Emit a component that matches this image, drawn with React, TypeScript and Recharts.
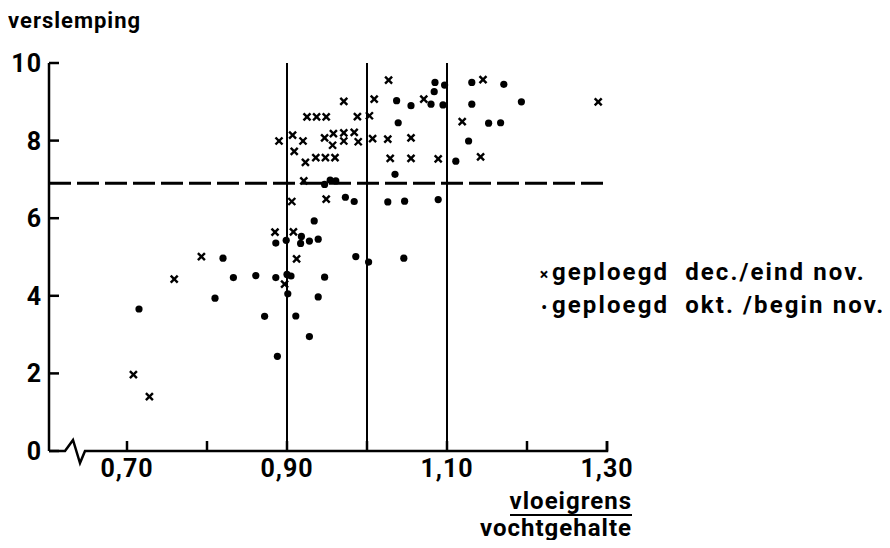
import { ScatterChart, Scatter, XAxis, YAxis, ReferenceLine } from "recharts";

const FONT = "Roboto, 'DejaVu Sans', sans-serif";

// axis setup
const xTicks = [0.7, 0.8, 0.9, 1.0, 1.1, 1.2, 1.3];
const xLabeled = [0.7, 0.9, 1.1, 1.3];
const yTicks = [0, 2, 4, 6, 8, 10];
const dividers = [0.9, 1.0, 1.1];
const threshold = 6.9;

// geploegd dec./eind nov. (crosses)
const decX = [0.708, 0.728, 0.759, 0.793, 0.885, 0.897, 0.908, 0.912, 0.906, 0.949, 0.921, 0.89, 0.907, 0.92, 0.909, 0.923, 0.936, 0.948, 0.96, 0.947, 0.958, 0.957, 0.971, 0.971, 0.984, 0.989, 0.925, 0.937, 0.949, 0.988, 1.003, 0.971, 1.009, 1.027, 1.007, 1.026, 1.055, 1.029, 1.055, 1.089, 1.071, 1.119, 1.142, 1.145, 1.289];
const decY = [1.97, 1.4, 4.43, 5.01, 5.64, 4.3, 5.65, 4.95, 6.43, 6.49, 6.96, 7.99, 8.14, 7.99, 7.72, 7.44, 7.56, 7.56, 7.56, 8.07, 8.18, 7.88, 8.2, 7.99, 8.21, 7.97, 8.61, 8.61, 8.61, 8.62, 8.64, 9.01, 9.07, 9.56, 8.05, 8.04, 8.07, 7.54, 7.54, 7.53, 9.07, 8.49, 7.58, 9.57, 9.0];

// geploegd okt./begin nov. (dots)
const oktX = [0.715, 0.81, 0.82, 0.833, 0.861, 0.872, 0.886, 0.888, 0.886, 0.899, 0.9, 0.905, 0.901, 0.911, 0.918, 0.917, 0.928, 0.928, 0.939, 0.934, 0.939, 0.947, 0.947, 0.954, 0.961, 0.973, 0.984, 0.986, 1.002, 1.026, 1.046, 1.047, 1.089, 1.035, 1.111, 1.127, 1.037, 1.039, 1.055, 1.08, 1.095, 1.084, 1.085, 1.097, 1.131, 1.131, 1.152, 1.167, 1.171, 1.193];
const oktY = [3.66, 3.94, 4.97, 4.47, 4.52, 3.47, 4.47, 2.44, 5.36, 5.43, 4.55, 4.51, 4.05, 3.48, 5.53, 5.35, 5.41, 2.95, 5.46, 5.93, 3.97, 4.48, 6.87, 6.98, 6.96, 6.54, 6.43, 5.01, 4.87, 6.42, 4.97, 6.44, 6.48, 7.13, 7.47, 7.99, 9.03, 8.46, 8.9, 8.94, 8.92, 9.26, 9.5, 9.43, 9.5, 8.94, 8.45, 8.46, 9.45, 9.0];

const decData = decX.map((x, i) => ({ x, y: decY[i] }));
const oktData = oktX.map((x, i) => ({ x, y: oktY[i] }));

const Cross = (p: any) => {
  const { cx, cy } = p;
  const s = 3.5;
  return (
    <g stroke="#000" strokeWidth={2.4}>
      <line x1={cx - s} y1={cy - s} x2={cx + s} y2={cy + s} />
      <line x1={cx - s} y1={cy + s} x2={cx + s} y2={cy - s} />
    </g>
  );
};

const Dot = (p: any) => <circle cx={p.cx} cy={p.cy} r={3.6} fill="#000" />;

const XTick = (p: any) => {
  const { x, y, payload } = p;
  const axisY = y - 8;
  const v = payload.value;
  const show = xLabeled.some((t) => Math.abs(t - v) < 1e-6);
  return (
    <g>
      <line x1={x} x2={x} y1={axisY} y2={axisY - 10} stroke="#000" strokeWidth={2.5} />
      {show && (
        <text x={x} y={axisY + 26} textAnchor="middle" fontFamily={FONT} fontWeight={700} fontSize={25} letterSpacing={1} fill="#000">
          {v.toFixed(2).replace(".", ",")}
        </text>
      )}
    </g>
  );
};

const YTick = (p: any) => {
  const { x, y, payload } = p;
  const axisX = x + 8;
  return (
    <g>
      <line x1={axisX} x2={axisX + 10} y1={y} y2={y} stroke="#000" strokeWidth={2.5} />
      <text x={axisX - 7} y={y} dy="0.36em" textAnchor="end" fontFamily={FONT} fontWeight={700} fontSize={25} letterSpacing={1} fill="#000">
        {payload.value}
      </text>
    </g>
  );
};

// x axis line with the break symbol near the origin
const BrokenAxis = (p: any) => {
  const { x1, y1, x2 } = p;
  const d = `M ${x1} ${y1} H ${x1 + 16} L ${x1 + 24} ${y1 - 11} L ${x1 + 31} ${y1 + 12} L ${x1 + 36} ${y1} H ${x2} V ${y1 - 10}`;
  return <path d={d} fill="none" stroke="#000" strokeWidth={2.5} />;
};

const markerBox = { display: "inline-block", width: 16, fontSize: 16, textAlign: "center" as const, letterSpacing: 0 };

export default function App() {
  return (
    <div style={{ position: "relative", width: 874, height: 532, background: "#fff", fontFamily: FONT, color: "#000" }}>
      <div style={{ position: "absolute", left: 0, top: 2, fontSize: 22, fontWeight: 700, letterSpacing: 1, lineHeight: "22px" }}>
        verslemping
      </div>

      <ScatterChart width={874} height={532} margin={{ top: 55, right: 275, bottom: 49, left: 0 }}>
        <XAxis
          type="number"
          dataKey="x"
          domain={[0.6025, 1.3]}
          ticks={xTicks}
          interval={0}
          allowDataOverflow
          axisLine={false}
          tickLine={false}
          tick={<XTick />}
          height={40}
        />
        <YAxis
          type="number"
          dataKey="y"
          domain={[0, 10]}
          ticks={yTicks}
          interval={0}
          axisLine={{ stroke: "#000", strokeWidth: 2.5 }}
          tickLine={false}
          tick={<YTick />}
          width={41}
        />
        <ReferenceLine y={0} shape={BrokenAxis} />
        {dividers.map((v) => (
          <ReferenceLine key={v} x={v} stroke="#000" strokeWidth={2} />
        ))}
        <ReferenceLine y={threshold} stroke="#000" strokeWidth={3} strokeDasharray="22 6" />
        <Scatter data={decData} shape={Cross} isAnimationActive={false} />
        <Scatter data={oktData} shape={Dot} isAnimationActive={false} />
      </ScatterChart>

      <div style={{ position: "absolute", left: 528, top: 249, fontSize: 24, fontWeight: 700, letterSpacing: 2.1, lineHeight: "30px", whiteSpace: "pre" }}>
        <div><span style={markerBox}>×</span>{"geploegd  dec./eind nov."}</div>
        <div><span style={markerBox}>•</span>{"geploegd  okt. /begin nov."}</div>
      </div>

      <div style={{ position: "absolute", right: 874 - 624, top: 481, fontSize: 24, fontWeight: 700, letterSpacing: 1, lineHeight: "24px", textAlign: "right" }}>
        <div>
          <span style={{ display: "inline-block", borderBottom: "2px solid #000", lineHeight: "24px", paddingBottom: 1 }}>vloeigrens</span>
        </div>
        <div>vochtgehalte</div>
      </div>
    </div>
  );
}
